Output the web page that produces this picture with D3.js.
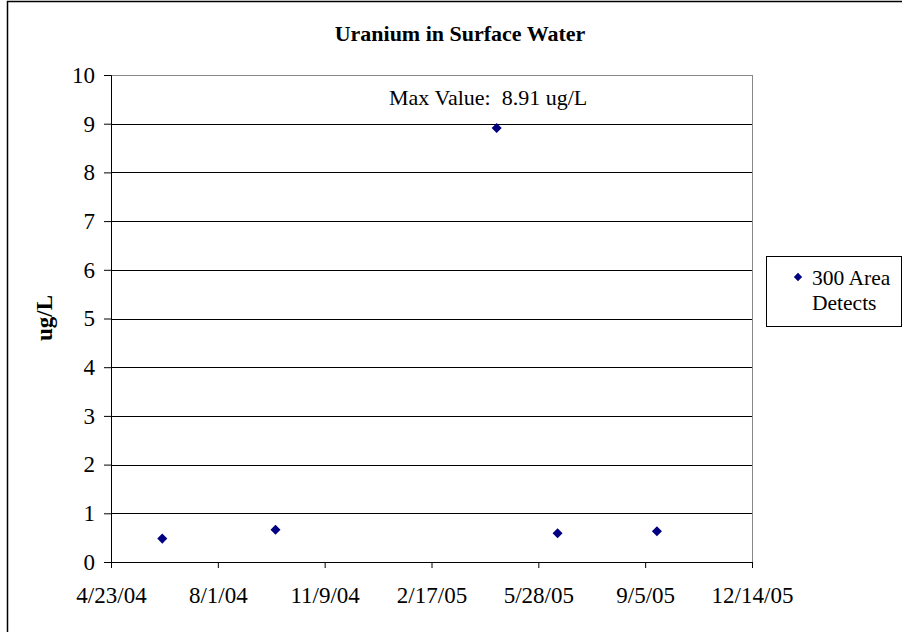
<!DOCTYPE html>
<html>
<head>
<meta charset="utf-8">
<script src="https://cdn.jsdelivr.net/npm/d3@7"></script>
<style>
  body { margin: 0; background: #fff; }
  text { font-family: "Liberation Serif", "Times New Roman", serif; fill: #000; }
</style>
</head>
<body>
<div id="chart"></div>
<script>
// Sample dates and measured uranium (ug/L)
const sampleDates = ["2004-06-10", "2004-09-24", "2005-04-19", "2005-06-15", "2005-09-16"];
const uranium = [0.48, 0.66, 8.91, 0.59, 0.63];

// Axis ticks as shown on the chart
const xTickLabels = ["4/23/04", "8/1/04", "11/9/04", "2/17/05", "5/28/05", "9/5/05", "12/14/05"];
const yTicks = [0, 1, 2, 3, 4, 5, 6, 7, 8, 9, 10];

const seriesName = ["300 Area", "Detects"];
const maxLabel = "Max Value:  8.91 ug/L";

const parseDate = d3.timeParse("%Y-%m-%d");
const parseTick = d3.timeParse("%-m/%-d/%y");

const width = 902, height = 632;
const margin = { top: 75, right: 150, bottom: 70, left: 111 };
const plotW = 752 - margin.left;
const plotH = 562 - margin.top;

const svg = d3.select("#chart").append("svg")
    .attr("width", width)
    .attr("height", height);

// outer chart border (runs off the right/bottom of the picture)
svg.append("rect")
    .attr("x", 7.5).attr("y", 1.5)
    .attr("width", 906).attr("height", 640)
    .attr("fill", "none")
    .attr("stroke", "#000")
    .attr("stroke-width", 1.5);

const xTicks = xTickLabels.map(parseTick);
const x = d3.scaleTime()
    .domain([xTicks[0], xTicks[xTicks.length - 1]])
    .range([0, plotW]);

const y = d3.scaleLinear()
    .domain([0, 10])
    .range([plotH, 0]);

const g = svg.append("g")
    .attr("transform", `translate(${margin.left}, ${margin.top})`);

// gridlines
g.selectAll(".grid")
    .data(yTicks.slice(1))
    .enter().append("line")
    .attr("x1", 0).attr("x2", plotW)
    .attr("y1", d => Math.round(y(d)) + 0.5)
    .attr("y2", d => Math.round(y(d)) + 0.5)
    .attr("stroke", d => d === 10 ? "#888" : "#000")
    .attr("stroke-width", 1);

// right plot border
g.append("line")
    .attr("x1", plotW + 0.5).attr("x2", plotW + 0.5)
    .attr("y1", 0).attr("y2", plotH)
    .attr("stroke", "#888");

// y axis
const yAxis = g.append("g")
    .call(d3.axisLeft(y).tickValues(yTicks).tickSize(7).tickPadding(9).tickFormat(d3.format("d")));
yAxis.select(".domain").attr("stroke", "#000");
yAxis.selectAll(".tick line").attr("stroke", "#000");
yAxis.selectAll("text")
    .attr("font-family", "Liberation Serif")
    .attr("font-size", "23px")
    .attr("fill", "#000");

// x axis
const xAxis = g.append("g")
    .attr("transform", `translate(0, ${plotH})`)
    .call(d3.axisBottom(x).tickValues(xTicks).tickSize(6).tickPadding(18.5)
        .tickFormat((d, i) => xTickLabels[i]));
xAxis.select(".domain").attr("stroke", "#000");
xAxis.selectAll(".tick line").attr("stroke", "#000");
xAxis.selectAll("text")
    .attr("font-family", "Liberation Serif")
    .attr("font-size", "23px")
    .attr("fill", "#000");

// data points
const diamond = d3.symbol().type(d3.symbolDiamond2).size(64);
g.selectAll(".pt")
    .data(sampleDates.map((d, i) => ({ date: parseDate(d), value: uranium[i] })))
    .enter().append("path")
    .attr("d", diamond)
    .attr("transform", d => `translate(${x(d.date)}, ${y(d.value)})`)
    .attr("fill", "#000080");

// max value note
g.append("text")
    .attr("x", 389 - margin.left)
    .attr("y", 105 - margin.top)
    .attr("font-size", "22px")
    .style("white-space", "pre")
    .text(maxLabel);

// title, centred on the chart area
svg.append("text")
    .attr("x", 460)
    .attr("y", 41)
    .attr("text-anchor", "middle")
    .attr("font-weight", "bold")
    .attr("font-size", "22px")
    .text("Uranium in Surface Water");

// y axis label
svg.append("text")
    .attr("transform", "translate(52, 318) rotate(-90)")
    .attr("text-anchor", "middle")
    .attr("font-weight", "bold")
    .attr("font-size", "23px")
    .text("ug/L");

// legend
const legend = svg.append("g");
legend.append("rect")
    .attr("x", 766.5).attr("y", 256.5)
    .attr("width", 135).attr("height", 70)
    .attr("fill", "#fff")
    .attr("stroke", "#000");
legend.append("path")
    .attr("d", d3.symbol().type(d3.symbolDiamond2).size(44))
    .attr("transform", "translate(798, 277)")
    .attr("fill", "#000080");
legend.selectAll(".lg")
    .data(seriesName)
    .enter().append("text")
    .attr("x", 812)
    .attr("y", (d, i) => 285 + i * 25)
    .attr("font-size", "21.5px")
    .text(d => d);
</script>
</body>
</html>
